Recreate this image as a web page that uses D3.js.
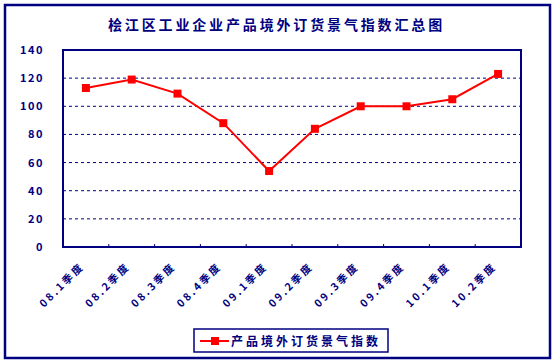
<!DOCTYPE html>
<html>
<head>
<meta charset="utf-8">
<script src="https://cdn.jsdelivr.net/npm/d3@7"></script>
<style>
  body { margin: 0; background: #fff; }
  text { font-family: "Noto Sans CJK SC", "DejaVu Sans", sans-serif; font-weight: bold; fill: #000080; }
</style>
</head>
<body>
<div id="chart"></div>
<script>
var quarters = ["08.1季度", "08.2季度", "08.3季度", "08.4季度", "09.1季度", "09.2季度", "09.3季度", "09.4季度", "10.1季度", "10.2季度"]
var indexValues = [113, 119, 109, 88, 54, 84, 100, 100, 105, 123]
var yTicks = [0, 20, 40, 60, 80, 100, 120, 140]
var seriesName = "产品境外订货景气指数"
var titleText = "桧江区工业企业产品境外订货景气指数汇总图"

var W = 556, H = 364
var margin = { top: 50, left: 63, right: 35, bottom: 117 },
  width = W - margin.left - margin.right,
  height = H - margin.top - margin.bottom

var navy = "#000080"

var svg = d3.select("#chart")
  .append("svg")
  .attr("width", W)
  .attr("height", H)

// outer frame
svg.append("rect")
  .attr("x", 5).attr("y", 5)
  .attr("width", 545).attr("height", 353)
  .attr("fill", "none")
  .attr("stroke", navy)
  .attr("stroke-width", 2.5)

svg.append("text")
  .attr("x", 108).attr("y", 30)
  .style("font-size", "14px")
  .style("letter-spacing", "2.85px")
  .text(titleText)

var g = svg.append("g")
  .attr("transform", "translate(" + margin.left + "," + margin.top + ")")

var x = d3.scaleBand()
  .domain(quarters)
  .range([0, width])

var y = d3.scaleLinear()
  .domain([0, 140])
  .range([height, 0])

// gridlines
g.selectAll(".grid")
  .data(yTicks.filter(function (d) { return d > 0 && d < 140 }))
  .enter()
  .append("line")
  .attr("x1", 0).attr("x2", width)
  .attr("y1", function (d) { return y(d) })
  .attr("y2", function (d) { return y(d) })
  .attr("stroke", navy)
  .attr("stroke-width", 1)
  .attr("stroke-dasharray", "3,3")

// plot border
g.append("rect")
  .attr("x", 0).attr("y", 0)
  .attr("width", width).attr("height", height)
  .attr("fill", "none")
  .attr("stroke", navy)
  .attr("stroke-width", 2)

// y labels
var yAxis = d3.axisLeft(y).tickValues(yTicks).tickSize(0).tickPadding(19)
var yg = g.append("g").call(yAxis)
yg.select(".domain").remove()
yg.selectAll("text")
  .style("font-size", "11px")
  .style("letter-spacing", "1.5px")
  .attr("fill", navy)

// x ticks at category boundaries
var bounds = quarters.slice(1).map(function (q) { return x(q) })
g.selectAll(".xtick")
  .data(bounds)
  .enter()
  .append("line")
  .attr("x1", function (d) { return d }).attr("x2", function (d) { return d })
  .attr("y1", height).attr("y2", height - 3)
  .attr("stroke", navy)
  .attr("stroke-width", 1)

// x labels
g.selectAll(".xlabel")
  .data(quarters)
  .enter()
  .append("text")
  .attr("text-anchor", "end")
  .style("font-size", "10.5px")
  .style("letter-spacing", "2.5px")
  .attr("transform", function (d) {
    return "translate(" + (x(d) + x.bandwidth() / 2 - 1) + "," + (height + 20) + ") rotate(-45)"
  })
  .text(function (d) { return d })

// line
var line = d3.line()
  .x(function (d, i) { return x(quarters[i]) + x.bandwidth() / 2 })
  .y(function (d) { return y(d) })

g.append("path")
  .datum(indexValues)
  .attr("d", line)
  .attr("fill", "none")
  .attr("stroke", "#ff0000")
  .attr("stroke-width", 2)

g.selectAll(".pt")
  .data(indexValues)
  .enter()
  .append("rect")
  .attr("x", function (d, i) { return x(quarters[i]) + x.bandwidth() / 2 - 4 })
  .attr("y", function (d) { return y(d) - 4 })
  .attr("width", 8).attr("height", 8)
  .attr("fill", "#ff0000")

// legend
var lg = svg.append("g").attr("transform", "translate(194,329)")
lg.append("rect")
  .attr("width", 194).attr("height", 23)
  .attr("fill", "#fff")
  .attr("stroke", navy)
  .attr("stroke-width", 1.5)
lg.append("line")
  .attr("x1", 6).attr("x2", 35)
  .attr("y1", 12).attr("y2", 12)
  .attr("stroke", "#ff0000").attr("stroke-width", 2)
lg.append("rect")
  .attr("x", 17).attr("y", 8)
  .attr("width", 8).attr("height", 8)
  .attr("fill", "#ff0000")
lg.append("text")
  .attr("x", 37).attr("y", 16.5)
  .style("font-size", "12px")
  .style("letter-spacing", "3px")
  .text(seriesName)
</script>
</body>
</html>
